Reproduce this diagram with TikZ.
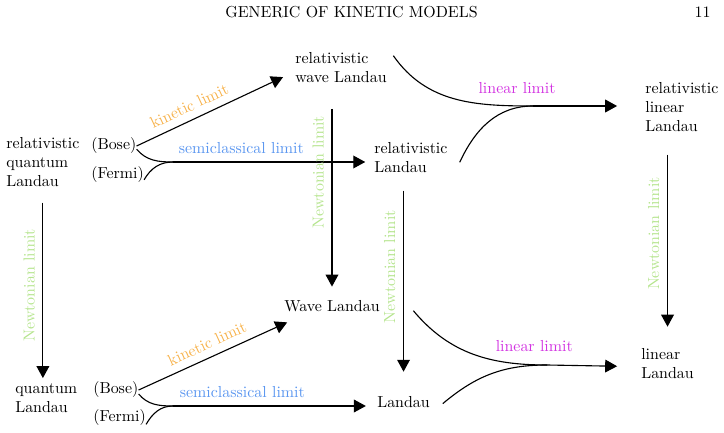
\documentclass[tikz,border=0pt]{standalone}
\usepackage{xcolor}
\usepackage{tikz}
\usetikzlibrary{arrows.meta, positioning, calc}
\definecolor{kineticorange}{RGB}{247, 178, 75}
\definecolor{semiblue}{RGB}{90, 150, 240}
\definecolor{newtongreen}{RGB}{180, 228, 140}
\definecolor{linearmagenta}{RGB}{210, 50, 225}

\begin{document}
\begin{tikzpicture}[
    x=0.628pt, y=-0.628pt,
    model/.style={inner sep=0pt, align=left, anchor=west},
    lbl/.style={inner sep=4.8pt},
    arrow/.style={-{Triangle[length=7.5pt, width=8pt]}, line width=0.7pt},
    link/.style={line width=0.7pt}
]
\useasboundingbox (0,0) rectangle (724,433);

% Page header
\node (header) at (351.5,12) {GENERIC OF KINETIC MODELS};
\node (pagenum) at (702.5,12) {11};

% Models
\node[model] (rqL) at (6,162) {relativistic\\quantum\\Landau};
\node[model] (bose1) at (91,146) {(Bose)};
\node[model] (fermi1) at (91,175) {(Fermi)};
\node[model] (rwL) at (295,68) {relativistic\\wave Landau};
\node[model] (rL) at (374,157.5) {relativistic\\Landau};
\node[model] (rlL) at (645,107) {relativistic\\linear\\Landau};
\node[model] (wL) at (284,306) {Wave Landau};
\node[model] (qL) at (15,398.5) {quantum\\Landau};
\node[model] (bose2) at (93,390) {(Bose)};
\node[model] (fermi2) at (93,418) {(Fermi)};
\node[model] (L) at (377,402) {Landau};
\node[model] (lL) at (641,363.5) {linear\\Landau};

% Junction points
\coordinate (j1) at (173,162);
\coordinate (j2) at (173,406);
\coordinate (j3) at (533,106);
\coordinate (j4) at (547,365);

% Kinetic limits
\draw[arrow] (bose1.east) -- node[lbl, kineticorange, sloped, above, pos=0.4] {kinetic limit} ([xshift=-7.5pt, yshift=4pt]rwL.south west);
\draw[arrow] (bose2.east) -- node[lbl, kineticorange, sloped, above] {kinetic limit} ([xshift=2pt, yshift=-6.5pt]wL.south west);

% Semiclassical limits
\draw[link] ([yshift=-2pt]bose1.east) to[out=-50, in=180] (j1);
\draw[link] ([yshift=-3pt]fermi1.east) to[out=60, in=180] (j1);
\draw[arrow, shorten >=5.5pt] (j1) -- node[lbl, semiblue, above, pos=0.34] {semiclassical limit} (j1 -| rL.west);
\draw[link] ([yshift=-2.5pt]bose2.east) to[out=-50, in=180] (j2);
\draw[link] ([yshift=-4pt]fermi2.east) to[out=60, in=180] (j2);
\draw[arrow, shorten >=7pt] (j2) -- node[lbl, semiblue, above, pos=0.34] {semiclassical limit} (j2 -| L.west);

% Newtonian limits
\draw[arrow, shorten <=9.8pt, shorten >=3.5pt] (rqL.south) -- node[lbl, newtongreen, rotate=90, above] {Newtonian limit} (rqL.south |- qL.north);
\draw[arrow, shorten <=16pt, shorten >=8.4pt] (wL.north |- rwL.south) -- node[lbl, newtongreen, rotate=90, above, pos=0.41] {Newtonian limit} (wL.north);
\draw[arrow, shorten <=11pt, shorten >=15.3pt] (L.north |- rL.south) -- node[lbl, newtongreen, rotate=90, above, pos=0.42] {Newtonian limit} (L.north);
\draw[arrow, shorten <=14.2pt, shorten >=13.4pt] (lL.north |- rlL.south) -- node[lbl, newtongreen, rotate=90, above, pos=0.47] {Newtonian limit} (lL.north);

% Linear limits
\draw[link] ([xshift=4pt, yshift=-2pt]rwL.north east) to[out=-55, in=180] (j3);
\draw[link] ([xshift=7.5pt, yshift=-3pt]rL.east) to[out=65, in=180] (j3);
\draw[arrow, shorten >=17.5pt] (j3) -- node[lbl, linearmagenta, above, pos=0, xshift=-10pt, yshift=2.5pt] {linear limit} (j3 -| rlL.west);
\draw[link] ([xshift=21pt, yshift=-3pt]wL.east) to[out=-50, in=180] (j4);
\draw[link] ([xshift=8pt, yshift=-1pt]L.east) to[out=40, in=180] (j4);
\draw[arrow, shorten >=15pt] (j4) -- node[lbl, linearmagenta, above, pos=0, xshift=-8pt, yshift=3pt] {linear limit} ([yshift=-2pt]lL.west);

\end{tikzpicture}
\end{document}
